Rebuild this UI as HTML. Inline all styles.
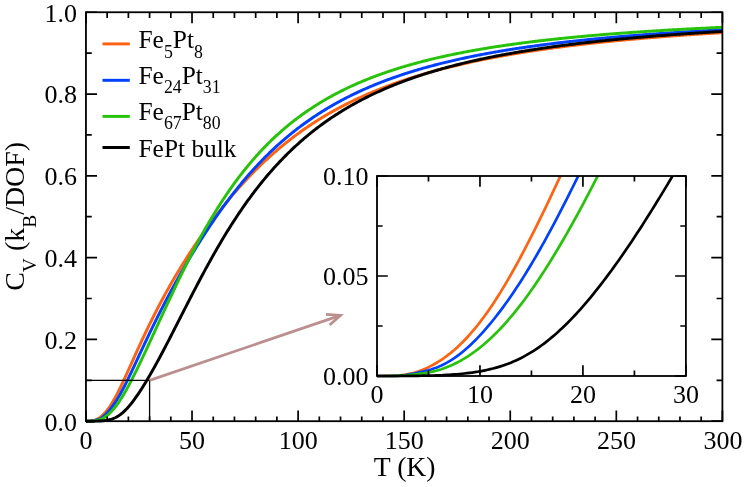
<!DOCTYPE html><html><head><meta charset="utf-8"><title>Cv</title>
<style>html,body{margin:0;padding:0;background:#fff}svg{display:block}svg{will-change:transform}text{font-family:"Liberation Serif",serif;fill:#000}</style></head><body>
<svg width="747" height="487" viewBox="0 0 747 487">
<rect width="747" height="487" fill="#fff"/>
<defs><clipPath id="cm"><rect x="85.95" y="12.25" width="636.4499999999999" height="411.95"/></clipPath><clipPath id="ci"><rect x="377.0" y="176.0" width="308.9" height="203.0"/></clipPath></defs>
<g clip-path="url(#cm)" fill="none" stroke-linejoin="round">
<path d="M85.95,421.20 L86.48,421.20 L87.01,421.20 L87.54,421.19 L88.07,421.19 L88.60,421.17 L89.13,421.16 L89.66,421.13 L90.19,421.09 L90.72,421.05 L91.25,420.99 L91.78,420.91 L92.31,420.82 L92.84,420.71 L93.38,420.59 L93.91,420.44 L94.44,420.27 L94.97,420.08 L95.50,419.87 L96.03,419.65 L96.56,419.40 L97.09,419.13 L97.62,418.85 L98.15,418.55 L98.68,418.22 L99.21,417.88 L99.74,417.52 L100.27,417.14 L100.80,416.74 L101.33,416.32 L101.86,415.88 L102.39,415.41 L102.92,414.92 L103.45,414.41 L103.98,413.88 L104.51,413.32 L105.04,412.74 L105.57,412.14 L106.10,411.52 L106.63,410.87 L107.16,410.20 L107.70,409.50 L108.23,408.79 L108.76,408.05 L109.29,407.29 L109.82,406.51 L110.35,405.71 L110.88,404.88 L111.41,404.04 L111.94,403.18 L112.47,402.30 L113.00,401.40 L113.53,400.49 L114.06,399.56 L114.59,398.61 L115.12,397.64 L115.65,396.67 L116.18,395.67 L116.71,394.67 L117.24,393.64 L117.77,392.61 L118.30,391.57 L118.83,390.51 L119.36,389.44 L119.89,388.37 L120.42,387.28 L120.95,386.19 L121.49,385.08 L122.02,383.97 L122.55,382.85 L123.08,381.72 L123.61,380.59 L124.14,379.45 L124.67,378.31 L125.20,377.16 L125.73,376.01 L126.26,374.85 L126.79,373.69 L127.32,372.52 L127.85,371.36 L128.38,370.19 L128.91,369.01 L129.44,367.84 L129.97,366.67 L130.50,365.49 L131.03,364.31 L131.56,363.13 L132.09,361.96 L132.62,360.78 L133.15,359.60 L133.68,358.43 L134.21,357.25 L134.74,356.08 L135.27,354.90 L135.81,353.73 L136.34,352.56 L136.87,351.39 L137.40,350.23 L137.93,349.06 L138.46,347.90 L138.99,346.74 L139.52,345.59 L140.05,344.43 L140.58,343.28 L141.11,342.14 L141.64,340.99 L142.17,339.85 L142.70,338.72 L143.23,337.58 L143.76,336.45 L144.29,335.33 L144.82,334.21 L145.35,333.09 L145.88,331.97 L146.41,330.86 L146.94,329.76 L147.47,328.65 L148.00,327.55 L148.53,326.46 L149.06,325.37 L149.59,324.28 L150.13,323.20 L150.66,322.12 L151.19,321.05 L151.72,319.98 L152.25,318.91 L152.78,317.85 L153.31,316.80 L153.84,315.74 L154.37,314.70 L154.90,313.65 L155.43,312.61 L155.96,311.57 L156.49,310.54 L157.02,309.52 L157.55,308.49 L158.08,307.47 L158.61,306.46 L159.14,305.45 L159.67,304.44 L160.20,303.43 L160.73,302.44 L161.26,301.44 L161.79,300.45 L162.32,299.46 L162.85,298.48 L163.38,297.50 L163.92,296.52 L164.45,295.55 L164.98,294.58 L165.51,293.62 L166.04,292.66 L166.57,291.70 L167.10,290.75 L167.63,289.80 L168.16,288.85 L168.69,287.91 L169.22,286.97 L169.75,286.03 L170.28,285.10 L170.81,284.17 L171.87,282.33 L172.93,280.49 L173.99,278.68 L175.05,276.87 L176.11,275.08 L177.17,273.29 L178.24,271.53 L179.30,269.77 L180.36,268.03 L181.42,266.30 L182.48,264.58 L183.54,262.87 L184.60,261.17 L185.66,259.49 L186.72,257.81 L187.78,256.15 L188.84,254.50 L189.90,252.86 L190.96,251.23 L192.02,249.61 L193.09,248.00 L194.15,246.40 L195.21,244.81 L196.27,243.24 L197.33,241.67 L198.39,240.11 L199.45,238.57 L200.51,237.03 L201.57,235.50 L202.63,233.99 L203.69,232.48 L204.75,230.98 L205.81,229.50 L206.88,228.02 L207.94,226.55 L209.00,225.09 L210.06,223.64 L211.12,222.20 L212.18,220.78 L213.24,219.36 L214.30,217.94 L215.36,216.54 L216.42,215.15 L217.48,213.77 L218.54,212.40 L219.60,211.03 L220.67,209.68 L221.73,208.34 L222.79,207.00 L223.85,205.67 L224.91,204.36 L225.97,203.05 L227.03,201.75 L228.09,200.46 L229.15,199.18 L230.21,197.91 L231.27,196.64 L232.33,195.39 L233.39,194.14 L234.45,192.91 L235.52,191.68 L236.58,190.46 L237.64,189.25 L238.70,188.05 L239.76,186.86 L240.82,185.68 L241.88,184.50 L242.94,183.34 L244.00,182.18 L245.06,181.03 L246.12,179.89 L247.18,178.76 L248.24,177.64 L249.31,176.52 L250.37,175.42 L251.43,174.32 L252.49,173.23 L253.55,172.15 L254.61,171.07 L255.67,170.01 L256.73,168.95 L257.79,167.90 L258.85,166.86 L259.91,165.83 L260.97,164.81 L262.03,163.79 L263.10,162.78 L264.16,161.78 L265.22,160.79 L266.28,159.80 L267.34,158.82 L268.40,157.85 L269.46,156.89 L270.52,155.93 L271.58,154.99 L272.64,154.05 L273.70,153.11 L274.76,152.19 L275.82,151.27 L276.88,150.36 L277.95,149.46 L279.01,148.56 L280.07,147.67 L281.13,146.79 L282.19,145.91 L283.25,145.04 L284.31,144.18 L285.37,143.33 L286.43,142.48 L287.49,141.64 L288.55,140.80 L289.61,139.98 L290.67,139.16 L291.74,138.34 L292.80,137.53 L293.86,136.73 L294.92,135.94 L295.98,135.15 L297.04,134.37 L298.10,133.59 L299.16,132.82 L300.22,132.06 L301.28,131.30 L302.34,130.55 L303.40,129.80 L304.46,129.06 L305.53,128.33 L306.59,127.60 L307.65,126.88 L308.71,126.16 L309.77,125.45 L310.83,124.75 L311.89,124.05 L312.95,123.35 L314.01,122.67 L315.07,121.98 L316.13,121.31 L317.19,120.64 L318.25,119.97 L319.31,119.31 L320.38,118.65 L321.44,118.00 L322.50,117.36 L323.56,116.72 L324.62,116.08 L325.68,115.45 L326.74,114.83 L327.80,114.21 L328.86,113.59 L329.92,112.98 L330.98,112.38 L332.04,111.78 L333.10,111.18 L334.17,110.59 L335.23,110.00 L336.29,109.42 L337.35,108.84 L338.41,108.27 L339.47,107.70 L340.53,107.14 L341.59,106.58 L342.65,106.03 L343.71,105.48 L344.77,104.93 L345.83,104.39 L346.89,103.85 L347.96,103.32 L349.02,102.79 L350.08,102.26 L351.14,101.74 L352.20,101.22 L353.26,100.71 L354.32,100.20 L355.38,99.70 L356.44,99.20 L357.50,98.70 L358.56,98.21 L359.62,97.72 L360.68,97.23 L361.74,96.75 L362.81,96.27 L363.87,95.79 L364.93,95.32 L365.99,94.86 L367.05,94.39 L368.11,93.93 L369.17,93.48 L370.23,93.02 L371.29,92.57 L372.35,92.13 L373.41,91.68 L374.47,91.24 L375.53,90.81 L376.60,90.37 L377.66,89.94 L378.72,89.52 L379.78,89.09 L380.84,88.67 L381.90,88.26 L382.96,87.84 L384.02,87.43 L385.08,87.02 L386.14,86.62 L387.20,86.22 L388.26,85.82 L389.32,85.42 L390.39,85.03 L391.45,84.64 L392.51,84.25 L393.57,83.87 L394.63,83.49 L395.69,83.11 L396.75,82.73 L397.81,82.36 L398.87,81.99 L399.93,81.62 L400.99,81.26 L402.05,80.89 L403.11,80.53 L404.17,80.18 L405.24,79.82 L406.30,79.47 L407.36,79.12 L408.42,78.77 L409.48,78.43 L410.54,78.09 L411.60,77.75 L412.66,77.41 L413.72,77.08 L414.78,76.75 L415.84,76.42 L416.90,76.09 L417.96,75.76 L419.03,75.44 L420.09,75.12 L421.15,74.80 L422.21,74.49 L423.27,74.17 L424.33,73.86 L425.39,73.55 L426.45,73.24 L427.51,72.94 L428.57,72.64 L429.63,72.34 L430.69,72.04 L431.75,71.74 L432.82,71.45 L433.88,71.15 L434.94,70.86 L436.00,70.57 L437.06,70.29 L438.12,70.00 L439.18,69.72 L440.24,69.44 L441.30,69.16 L442.36,68.89 L443.42,68.61 L444.48,68.34 L445.54,68.07 L446.60,67.80 L447.67,67.53 L448.73,67.26 L449.79,67.00 L450.85,66.74 L451.91,66.48 L452.97,66.22 L454.03,65.96 L455.09,65.71 L456.15,65.45 L457.21,65.20 L458.27,64.95 L459.33,64.70 L460.39,64.46 L461.46,64.21 L462.52,63.97 L463.58,63.73 L464.64,63.49 L465.70,63.25 L466.76,63.01 L467.82,62.78 L468.88,62.54 L469.94,62.31 L471.00,62.08 L472.06,61.85 L473.12,61.62 L474.18,61.40 L475.25,61.17 L476.31,60.95 L477.37,60.73 L478.43,60.51 L479.49,60.29 L480.55,60.07 L481.61,59.85 L482.67,59.64 L483.73,59.42 L484.79,59.21 L485.85,59.00 L486.91,58.79 L487.97,58.58 L489.03,58.38 L490.10,58.17 L491.16,57.97 L492.22,57.77 L493.28,57.56 L494.34,57.36 L495.40,57.16 L496.46,56.97 L497.52,56.77 L498.58,56.58 L499.64,56.38 L500.70,56.19 L501.76,56.00 L502.82,55.81 L503.89,55.62 L504.95,55.43 L506.01,55.24 L507.07,55.06 L508.13,54.87 L509.19,54.69 L510.25,54.51 L511.31,54.32 L512.37,54.14 L513.43,53.97 L514.49,53.79 L515.55,53.61 L516.61,53.43 L517.68,53.26 L518.74,53.09 L519.80,52.91 L520.86,52.74 L521.92,52.57 L522.98,52.40 L524.04,52.23 L525.10,52.07 L526.16,51.90 L527.22,51.73 L528.28,51.57 L529.34,51.41 L530.40,51.24 L531.47,51.08 L532.53,50.92 L533.59,50.76 L534.65,50.60 L535.71,50.45 L536.77,50.29 L537.83,50.13 L538.89,49.98 L539.95,49.82 L541.01,49.67 L542.07,49.52 L543.13,49.37 L544.19,49.22 L545.25,49.07 L546.32,48.92 L547.38,48.77 L548.44,48.62 L549.50,48.48 L550.56,48.33 L551.62,48.19 L552.68,48.04 L553.74,47.90 L554.80,47.76 L555.86,47.62 L556.92,47.48 L557.98,47.34 L559.04,47.20 L560.11,47.06 L561.17,46.92 L562.23,46.79 L563.29,46.65 L564.35,46.52 L565.41,46.38 L566.47,46.25 L567.53,46.12 L568.59,45.99 L569.65,45.86 L570.71,45.72 L571.77,45.60 L572.83,45.47 L573.89,45.34 L574.96,45.21 L576.02,45.08 L577.08,44.96 L578.14,44.83 L579.20,44.71 L580.26,44.58 L581.32,44.46 L582.38,44.34 L583.44,44.22 L584.50,44.09 L585.56,43.97 L586.62,43.85 L587.68,43.73 L588.75,43.62 L589.81,43.50 L590.87,43.38 L591.93,43.26 L592.99,43.15 L594.05,43.03 L595.11,42.92 L596.17,42.80 L597.23,42.69 L598.29,42.58 L599.35,42.46 L600.41,42.35 L601.47,42.24 L602.54,42.13 L603.60,42.02 L604.66,41.91 L605.72,41.80 L606.78,41.70 L607.84,41.59 L608.90,41.48 L609.96,41.37 L611.02,41.27 L612.08,41.16 L613.14,41.06 L614.20,40.95 L615.26,40.85 L616.32,40.75 L617.39,40.64 L618.45,40.54 L619.51,40.44 L620.57,40.34 L621.63,40.24 L622.69,40.14 L623.75,40.04 L624.81,39.94 L625.87,39.84 L626.93,39.74 L627.99,39.65 L629.05,39.55 L630.11,39.45 L631.18,39.36 L632.24,39.26 L633.30,39.17 L634.36,39.07 L635.42,38.98 L636.48,38.88 L637.54,38.79 L638.60,38.70 L639.66,38.61 L640.72,38.52 L641.78,38.42 L642.84,38.33 L643.90,38.24 L644.97,38.15 L646.03,38.06 L647.09,37.97 L648.15,37.89 L649.21,37.80 L650.27,37.71 L651.33,37.62 L652.39,37.54 L653.45,37.45 L654.51,37.36 L655.57,37.28 L656.63,37.19 L657.69,37.11 L658.75,37.03 L659.82,36.94 L660.88,36.86 L661.94,36.78 L663.00,36.69 L664.06,36.61 L665.12,36.53 L666.18,36.45 L667.24,36.37 L668.30,36.29 L669.36,36.21 L670.42,36.13 L671.48,36.05 L672.54,35.97 L673.61,35.89 L674.67,35.81 L675.73,35.73 L676.79,35.66 L677.85,35.58 L678.91,35.50 L679.97,35.43 L681.03,35.35 L682.09,35.27 L683.15,35.20 L684.21,35.12 L685.27,35.05 L686.33,34.98 L687.40,34.90 L688.46,34.83 L689.52,34.76 L690.58,34.68 L691.64,34.61 L692.70,34.54 L693.76,34.47 L694.82,34.40 L695.88,34.32 L696.94,34.25 L698.00,34.18 L699.06,34.11 L700.12,34.04 L701.18,33.97 L702.25,33.90 L703.31,33.84 L704.37,33.77 L705.43,33.70 L706.49,33.63 L707.55,33.56 L708.61,33.50 L709.67,33.43 L710.73,33.36 L711.79,33.30 L712.85,33.23 L713.91,33.17 L714.97,33.10 L716.04,33.03 L717.10,32.97 L718.16,32.91 L719.22,32.84 L720.28,32.78 L721.34,32.71 L722.40,32.65" stroke="#FF6210" stroke-width="2.95"/>
<path d="M85.95,421.20 L86.48,421.20 L87.01,421.20 L87.54,421.20 L88.07,421.20 L88.60,421.20 L89.13,421.19 L89.66,421.18 L90.19,421.15 L90.72,421.12 L91.25,421.06 L91.78,420.99 L92.31,420.91 L92.84,420.83 L93.38,420.73 L93.91,420.63 L94.44,420.52 L94.97,420.41 L95.50,420.29 L96.03,420.16 L96.56,420.01 L97.09,419.86 L97.62,419.68 L98.15,419.49 L98.68,419.28 L99.21,419.05 L99.74,418.80 L100.27,418.52 L100.80,418.22 L101.33,417.90 L101.86,417.56 L102.39,417.19 L102.92,416.79 L103.45,416.38 L103.98,415.94 L104.51,415.48 L105.04,415.01 L105.57,414.51 L106.10,413.99 L106.63,413.45 L107.16,412.90 L107.70,412.32 L108.23,411.73 L108.76,411.12 L109.29,410.49 L109.82,409.85 L110.35,409.19 L110.88,408.51 L111.41,407.82 L111.94,407.11 L112.47,406.39 L113.00,405.65 L113.53,404.89 L114.06,404.12 L114.59,403.33 L115.12,402.53 L115.65,401.71 L116.18,400.88 L116.71,400.03 L117.24,399.17 L117.77,398.29 L118.30,397.41 L118.83,396.50 L119.36,395.58 L119.89,394.65 L120.42,393.71 L120.95,392.76 L121.49,391.79 L122.02,390.81 L122.55,389.82 L123.08,388.82 L123.61,387.81 L124.14,386.79 L124.67,385.75 L125.20,384.71 L125.73,383.66 L126.26,382.61 L126.79,381.54 L127.32,380.47 L127.85,379.39 L128.38,378.30 L128.91,377.20 L129.44,376.11 L129.97,375.00 L130.50,373.89 L131.03,372.78 L131.56,371.66 L132.09,370.54 L132.62,369.41 L133.15,368.28 L133.68,367.15 L134.21,366.01 L134.74,364.88 L135.27,363.74 L135.81,362.60 L136.34,361.46 L136.87,360.32 L137.40,359.18 L137.93,358.03 L138.46,356.89 L138.99,355.75 L139.52,354.61 L140.05,353.47 L140.58,352.33 L141.11,351.19 L141.64,350.05 L142.17,348.91 L142.70,347.78 L143.23,346.64 L143.76,345.51 L144.29,344.38 L144.82,343.25 L145.35,342.12 L145.88,341.00 L146.41,339.88 L146.94,338.76 L147.47,337.64 L148.00,336.53 L148.53,335.42 L149.06,334.31 L149.59,333.20 L150.13,332.10 L150.66,331.00 L151.19,329.90 L151.72,328.81 L152.25,327.72 L152.78,326.63 L153.31,325.55 L153.84,324.47 L154.37,323.39 L154.90,322.31 L155.43,321.24 L155.96,320.17 L156.49,319.10 L157.02,318.04 L157.55,316.98 L158.08,315.93 L158.61,314.87 L159.14,313.82 L159.67,312.77 L160.20,311.73 L160.73,310.69 L161.26,309.65 L161.79,308.62 L162.32,307.59 L162.85,306.56 L163.38,305.53 L163.92,304.51 L164.45,303.49 L164.98,302.47 L165.51,301.46 L166.04,300.45 L166.57,299.44 L167.10,298.44 L167.63,297.43 L168.16,296.44 L168.69,295.44 L169.22,294.45 L169.75,293.46 L170.28,292.47 L170.81,291.48 L171.87,289.52 L172.93,287.57 L173.99,285.63 L175.05,283.70 L176.11,281.79 L177.17,279.88 L178.24,277.98 L179.30,276.09 L180.36,274.22 L181.42,272.35 L182.48,270.50 L183.54,268.65 L184.60,266.82 L185.66,264.99 L186.72,263.18 L187.78,261.37 L188.84,259.57 L189.90,257.79 L190.96,256.01 L192.02,254.25 L193.09,252.49 L194.15,250.75 L195.21,249.01 L196.27,247.29 L197.33,245.57 L198.39,243.86 L199.45,242.17 L200.51,240.48 L201.57,238.81 L202.63,237.14 L203.69,235.49 L204.75,233.84 L205.81,232.21 L206.88,230.58 L207.94,228.97 L209.00,227.36 L210.06,225.77 L211.12,224.18 L212.18,222.61 L213.24,221.05 L214.30,219.50 L215.36,217.95 L216.42,216.42 L217.48,214.90 L218.54,213.39 L219.60,211.89 L220.67,210.40 L221.73,208.92 L222.79,207.45 L223.85,205.99 L224.91,204.54 L225.97,203.10 L227.03,201.68 L228.09,200.26 L229.15,198.85 L230.21,197.46 L231.27,196.07 L232.33,194.70 L233.39,193.33 L234.45,191.98 L235.52,190.63 L236.58,189.30 L237.64,187.98 L238.70,186.66 L239.76,185.36 L240.82,184.07 L241.88,182.79 L242.94,181.51 L244.00,180.25 L245.06,179.00 L246.12,177.76 L247.18,176.53 L248.24,175.31 L249.31,174.09 L250.37,172.89 L251.43,171.70 L252.49,170.52 L253.55,169.35 L254.61,168.18 L255.67,167.03 L256.73,165.89 L257.79,164.75 L258.85,163.63 L259.91,162.52 L260.97,161.41 L262.03,160.31 L263.10,159.23 L264.16,158.15 L265.22,157.08 L266.28,156.02 L267.34,154.97 L268.40,153.93 L269.46,152.90 L270.52,151.88 L271.58,150.86 L272.64,149.86 L273.70,148.86 L274.76,147.87 L275.82,146.89 L276.88,145.92 L277.95,144.96 L279.01,144.01 L280.07,143.06 L281.13,142.12 L282.19,141.19 L283.25,140.27 L284.31,139.36 L285.37,138.45 L286.43,137.56 L287.49,136.67 L288.55,135.79 L289.61,134.91 L290.67,134.05 L291.74,133.19 L292.80,132.34 L293.86,131.49 L294.92,130.66 L295.98,129.83 L297.04,129.01 L298.10,128.19 L299.16,127.39 L300.22,126.59 L301.28,125.80 L302.34,125.01 L303.40,124.23 L304.46,123.46 L305.53,122.69 L306.59,121.94 L307.65,121.18 L308.71,120.44 L309.77,119.70 L310.83,118.97 L311.89,118.24 L312.95,117.53 L314.01,116.81 L315.07,116.11 L316.13,115.41 L317.19,114.71 L318.25,114.02 L319.31,113.34 L320.38,112.67 L321.44,112.00 L322.50,111.33 L323.56,110.67 L324.62,110.02 L325.68,109.37 L326.74,108.73 L327.80,108.10 L328.86,107.47 L329.92,106.84 L330.98,106.22 L332.04,105.61 L333.10,105.00 L334.17,104.40 L335.23,103.80 L336.29,103.21 L337.35,102.62 L338.41,102.04 L339.47,101.46 L340.53,100.88 L341.59,100.32 L342.65,99.75 L343.71,99.20 L344.77,98.64 L345.83,98.09 L346.89,97.55 L347.96,97.01 L349.02,96.48 L350.08,95.95 L351.14,95.42 L352.20,94.90 L353.26,94.38 L354.32,93.87 L355.38,93.36 L356.44,92.86 L357.50,92.36 L358.56,91.86 L359.62,91.37 L360.68,90.89 L361.74,90.40 L362.81,89.93 L363.87,89.45 L364.93,88.98 L365.99,88.51 L367.05,88.05 L368.11,87.59 L369.17,87.14 L370.23,86.68 L371.29,86.24 L372.35,85.79 L373.41,85.35 L374.47,84.91 L375.53,84.48 L376.60,84.05 L377.66,83.63 L378.72,83.20 L379.78,82.78 L380.84,82.37 L381.90,81.96 L382.96,81.55 L384.02,81.14 L385.08,80.74 L386.14,80.34 L387.20,79.94 L388.26,79.55 L389.32,79.16 L390.39,78.77 L391.45,78.39 L392.51,78.01 L393.57,77.63 L394.63,77.26 L395.69,76.89 L396.75,76.52 L397.81,76.15 L398.87,75.79 L399.93,75.43 L400.99,75.08 L402.05,74.72 L403.11,74.37 L404.17,74.02 L405.24,73.68 L406.30,73.33 L407.36,72.99 L408.42,72.66 L409.48,72.32 L410.54,71.99 L411.60,71.66 L412.66,71.33 L413.72,71.01 L414.78,70.68 L415.84,70.36 L416.90,70.05 L417.96,69.73 L419.03,69.42 L420.09,69.11 L421.15,68.80 L422.21,68.50 L423.27,68.19 L424.33,67.89 L425.39,67.60 L426.45,67.30 L427.51,67.01 L428.57,66.71 L429.63,66.42 L430.69,66.14 L431.75,65.85 L432.82,65.57 L433.88,65.29 L434.94,65.01 L436.00,64.73 L437.06,64.46 L438.12,64.18 L439.18,63.91 L440.24,63.65 L441.30,63.38 L442.36,63.11 L443.42,62.85 L444.48,62.59 L445.54,62.33 L446.60,62.07 L447.67,61.82 L448.73,61.57 L449.79,61.31 L450.85,61.07 L451.91,60.82 L452.97,60.57 L454.03,60.33 L455.09,60.08 L456.15,59.84 L457.21,59.61 L458.27,59.37 L459.33,59.13 L460.39,58.90 L461.46,58.67 L462.52,58.44 L463.58,58.21 L464.64,57.98 L465.70,57.75 L466.76,57.53 L467.82,57.31 L468.88,57.09 L469.94,56.87 L471.00,56.65 L472.06,56.43 L473.12,56.22 L474.18,56.00 L475.25,55.79 L476.31,55.58 L477.37,55.37 L478.43,55.16 L479.49,54.96 L480.55,54.75 L481.61,54.55 L482.67,54.35 L483.73,54.15 L484.79,53.95 L485.85,53.75 L486.91,53.56 L487.97,53.36 L489.03,53.17 L490.10,52.97 L491.16,52.78 L492.22,52.59 L493.28,52.40 L494.34,52.22 L495.40,52.03 L496.46,51.85 L497.52,51.66 L498.58,51.48 L499.64,51.30 L500.70,51.12 L501.76,50.94 L502.82,50.76 L503.89,50.59 L504.95,50.41 L506.01,50.24 L507.07,50.06 L508.13,49.89 L509.19,49.72 L510.25,49.55 L511.31,49.38 L512.37,49.22 L513.43,49.05 L514.49,48.89 L515.55,48.72 L516.61,48.56 L517.68,48.40 L518.74,48.24 L519.80,48.08 L520.86,47.92 L521.92,47.76 L522.98,47.60 L524.04,47.45 L525.10,47.29 L526.16,47.14 L527.22,46.99 L528.28,46.83 L529.34,46.68 L530.40,46.53 L531.47,46.38 L532.53,46.24 L533.59,46.09 L534.65,45.94 L535.71,45.80 L536.77,45.65 L537.83,45.51 L538.89,45.37 L539.95,45.22 L541.01,45.08 L542.07,44.94 L543.13,44.80 L544.19,44.67 L545.25,44.53 L546.32,44.39 L547.38,44.26 L548.44,44.12 L549.50,43.99 L550.56,43.85 L551.62,43.72 L552.68,43.59 L553.74,43.46 L554.80,43.33 L555.86,43.20 L556.92,43.07 L557.98,42.94 L559.04,42.82 L560.11,42.69 L561.17,42.57 L562.23,42.44 L563.29,42.32 L564.35,42.19 L565.41,42.07 L566.47,41.95 L567.53,41.83 L568.59,41.71 L569.65,41.59 L570.71,41.47 L571.77,41.35 L572.83,41.23 L573.89,41.12 L574.96,41.00 L576.02,40.89 L577.08,40.77 L578.14,40.66 L579.20,40.54 L580.26,40.43 L581.32,40.32 L582.38,40.21 L583.44,40.10 L584.50,39.99 L585.56,39.88 L586.62,39.77 L587.68,39.66 L588.75,39.55 L589.81,39.45 L590.87,39.34 L591.93,39.23 L592.99,39.13 L594.05,39.02 L595.11,38.92 L596.17,38.82 L597.23,38.71 L598.29,38.61 L599.35,38.51 L600.41,38.41 L601.47,38.31 L602.54,38.21 L603.60,38.11 L604.66,38.01 L605.72,37.91 L606.78,37.81 L607.84,37.72 L608.90,37.62 L609.96,37.52 L611.02,37.43 L612.08,37.33 L613.14,37.24 L614.20,37.15 L615.26,37.05 L616.32,36.96 L617.39,36.87 L618.45,36.77 L619.51,36.68 L620.57,36.59 L621.63,36.50 L622.69,36.41 L623.75,36.32 L624.81,36.23 L625.87,36.14 L626.93,36.06 L627.99,35.97 L629.05,35.88 L630.11,35.80 L631.18,35.71 L632.24,35.62 L633.30,35.54 L634.36,35.45 L635.42,35.37 L636.48,35.29 L637.54,35.20 L638.60,35.12 L639.66,35.04 L640.72,34.95 L641.78,34.87 L642.84,34.79 L643.90,34.71 L644.97,34.63 L646.03,34.55 L647.09,34.47 L648.15,34.39 L649.21,34.31 L650.27,34.24 L651.33,34.16 L652.39,34.08 L653.45,34.00 L654.51,33.93 L655.57,33.85 L656.63,33.77 L657.69,33.70 L658.75,33.62 L659.82,33.55 L660.88,33.47 L661.94,33.40 L663.00,33.33 L664.06,33.25 L665.12,33.18 L666.18,33.11 L667.24,33.04 L668.30,32.96 L669.36,32.89 L670.42,32.82 L671.48,32.75 L672.54,32.68 L673.61,32.61 L674.67,32.54 L675.73,32.47 L676.79,32.40 L677.85,32.33 L678.91,32.27 L679.97,32.20 L681.03,32.13 L682.09,32.06 L683.15,32.00 L684.21,31.93 L685.27,31.86 L686.33,31.80 L687.40,31.73 L688.46,31.67 L689.52,31.60 L690.58,31.54 L691.64,31.47 L692.70,31.41 L693.76,31.35 L694.82,31.28 L695.88,31.22 L696.94,31.16 L698.00,31.10 L699.06,31.03 L700.12,30.97 L701.18,30.91 L702.25,30.85 L703.31,30.79 L704.37,30.73 L705.43,30.67 L706.49,30.61 L707.55,30.55 L708.61,30.49 L709.67,30.43 L710.73,30.37 L711.79,30.31 L712.85,30.25 L713.91,30.19 L714.97,30.14 L716.04,30.08 L717.10,30.02 L718.16,29.97 L719.22,29.91 L720.28,29.85 L721.34,29.80 L722.40,29.74" stroke="#0040FF" stroke-width="2.95"/>
<path d="M85.95,421.20 L86.48,421.20 L87.01,421.20 L87.54,421.20 L88.07,421.20 L88.60,421.20 L89.13,421.19 L89.66,421.18 L90.19,421.17 L90.72,421.14 L91.25,421.11 L91.78,421.07 L92.31,421.02 L92.84,420.97 L93.38,420.92 L93.91,420.86 L94.44,420.79 L94.97,420.72 L95.50,420.65 L96.03,420.56 L96.56,420.47 L97.09,420.36 L97.62,420.25 L98.15,420.11 L98.68,419.97 L99.21,419.81 L99.74,419.63 L100.27,419.43 L100.80,419.22 L101.33,419.00 L101.86,418.75 L102.39,418.49 L102.92,418.21 L103.45,417.92 L103.98,417.61 L104.51,417.28 L105.04,416.93 L105.57,416.57 L106.10,416.19 L106.63,415.80 L107.16,415.39 L107.70,414.96 L108.23,414.51 L108.76,414.05 L109.29,413.57 L109.82,413.07 L110.35,412.56 L110.88,412.03 L111.41,411.48 L111.94,410.92 L112.47,410.34 L113.00,409.74 L113.53,409.13 L114.06,408.49 L114.59,407.85 L115.12,407.18 L115.65,406.50 L116.18,405.81 L116.71,405.10 L117.24,404.37 L117.77,403.63 L118.30,402.87 L118.83,402.10 L119.36,401.32 L119.89,400.52 L120.42,399.70 L120.95,398.88 L121.49,398.04 L122.02,397.18 L122.55,396.32 L123.08,395.44 L123.61,394.55 L124.14,393.65 L124.67,392.74 L125.20,391.82 L125.73,390.89 L126.26,389.95 L126.79,389.00 L127.32,388.04 L127.85,387.07 L128.38,386.09 L128.91,385.10 L129.44,384.10 L129.97,383.10 L130.50,382.09 L131.03,381.07 L131.56,380.05 L132.09,379.01 L132.62,377.97 L133.15,376.93 L133.68,375.88 L134.21,374.82 L134.74,373.76 L135.27,372.69 L135.81,371.62 L136.34,370.54 L136.87,369.46 L137.40,368.37 L137.93,367.28 L138.46,366.18 L138.99,365.09 L139.52,363.98 L140.05,362.88 L140.58,361.77 L141.11,360.65 L141.64,359.53 L142.17,358.42 L142.70,357.29 L143.23,356.17 L143.76,355.04 L144.29,353.91 L144.82,352.78 L145.35,351.64 L145.88,350.50 L146.41,349.37 L146.94,348.23 L147.47,347.08 L148.00,345.94 L148.53,344.79 L149.06,343.65 L149.59,342.50 L150.13,341.35 L150.66,340.20 L151.19,339.05 L151.72,337.89 L152.25,336.74 L152.78,335.59 L153.31,334.43 L153.84,333.28 L154.37,332.12 L154.90,330.97 L155.43,329.81 L155.96,328.66 L156.49,327.50 L157.02,326.34 L157.55,325.19 L158.08,324.03 L158.61,322.87 L159.14,321.72 L159.67,320.56 L160.20,319.41 L160.73,318.26 L161.26,317.10 L161.79,315.95 L162.32,314.80 L162.85,313.65 L163.38,312.50 L163.92,311.35 L164.45,310.20 L164.98,309.05 L165.51,307.90 L166.04,306.76 L166.57,305.61 L167.10,304.47 L167.63,303.33 L168.16,302.19 L168.69,301.05 L169.22,299.92 L169.75,298.78 L170.28,297.65 L170.81,296.52 L171.87,294.26 L172.93,292.01 L173.99,289.77 L175.05,287.54 L176.11,285.31 L177.17,283.10 L178.24,280.89 L179.30,278.70 L180.36,276.51 L181.42,274.34 L182.48,272.17 L183.54,270.02 L184.60,267.88 L185.66,265.75 L186.72,263.64 L187.78,261.53 L188.84,259.44 L189.90,257.36 L190.96,255.30 L192.02,253.25 L193.09,251.21 L194.15,249.18 L195.21,247.17 L196.27,245.18 L197.33,243.19 L198.39,241.22 L199.45,239.27 L200.51,237.33 L201.57,235.41 L202.63,233.50 L203.69,231.60 L204.75,229.72 L205.81,227.85 L206.88,226.00 L207.94,224.17 L209.00,222.35 L210.06,220.54 L211.12,218.75 L212.18,216.98 L213.24,215.22 L214.30,213.47 L215.36,211.74 L216.42,210.03 L217.48,208.33 L218.54,206.65 L219.60,204.98 L220.67,203.32 L221.73,201.68 L222.79,200.06 L223.85,198.45 L224.91,196.86 L225.97,195.28 L227.03,193.71 L228.09,192.16 L229.15,190.63 L230.21,189.11 L231.27,187.60 L232.33,186.11 L233.39,184.63 L234.45,183.17 L235.52,181.72 L236.58,180.29 L237.64,178.87 L238.70,177.46 L239.76,176.07 L240.82,174.69 L241.88,173.32 L242.94,171.97 L244.00,170.63 L245.06,169.31 L246.12,168.00 L247.18,166.70 L248.24,165.41 L249.31,164.14 L250.37,162.88 L251.43,161.63 L252.49,160.39 L253.55,159.17 L254.61,157.96 L255.67,156.76 L256.73,155.58 L257.79,154.40 L258.85,153.24 L259.91,152.09 L260.97,150.95 L262.03,149.82 L263.10,148.71 L264.16,147.61 L265.22,146.51 L266.28,145.43 L267.34,144.36 L268.40,143.30 L269.46,142.25 L270.52,141.21 L271.58,140.18 L272.64,139.17 L273.70,138.16 L274.76,137.16 L275.82,136.18 L276.88,135.20 L277.95,134.23 L279.01,133.28 L280.07,132.33 L281.13,131.39 L282.19,130.46 L283.25,129.54 L284.31,128.63 L285.37,127.73 L286.43,126.84 L287.49,125.96 L288.55,125.09 L289.61,124.22 L290.67,123.37 L291.74,122.52 L292.80,121.68 L293.86,120.85 L294.92,120.03 L295.98,119.22 L297.04,118.41 L298.10,117.62 L299.16,116.83 L300.22,116.05 L301.28,115.27 L302.34,114.51 L303.40,113.75 L304.46,113.00 L305.53,112.25 L306.59,111.52 L307.65,110.79 L308.71,110.07 L309.77,109.35 L310.83,108.65 L311.89,107.95 L312.95,107.25 L314.01,106.57 L315.07,105.89 L316.13,105.21 L317.19,104.55 L318.25,103.89 L319.31,103.23 L320.38,102.59 L321.44,101.95 L322.50,101.31 L323.56,100.68 L324.62,100.06 L325.68,99.44 L326.74,98.83 L327.80,98.23 L328.86,97.63 L329.92,97.03 L330.98,96.45 L332.04,95.86 L333.10,95.29 L334.17,94.72 L335.23,94.15 L336.29,93.59 L337.35,93.04 L338.41,92.49 L339.47,91.94 L340.53,91.40 L341.59,90.87 L342.65,90.34 L343.71,89.81 L344.77,89.29 L345.83,88.78 L346.89,88.27 L347.96,87.76 L349.02,87.26 L350.08,86.77 L351.14,86.28 L352.20,85.79 L353.26,85.31 L354.32,84.83 L355.38,84.36 L356.44,83.89 L357.50,83.42 L358.56,82.96 L359.62,82.50 L360.68,82.05 L361.74,81.60 L362.81,81.16 L363.87,80.72 L364.93,80.28 L365.99,79.85 L367.05,79.42 L368.11,79.00 L369.17,78.57 L370.23,78.16 L371.29,77.74 L372.35,77.33 L373.41,76.93 L374.47,76.52 L375.53,76.13 L376.60,75.73 L377.66,75.34 L378.72,74.95 L379.78,74.56 L380.84,74.18 L381.90,73.80 L382.96,73.43 L384.02,73.05 L385.08,72.69 L386.14,72.32 L387.20,71.96 L388.26,71.60 L389.32,71.24 L390.39,70.89 L391.45,70.54 L392.51,70.19 L393.57,69.84 L394.63,69.50 L395.69,69.16 L396.75,68.83 L397.81,68.49 L398.87,68.16 L399.93,67.84 L400.99,67.51 L402.05,67.19 L403.11,66.87 L404.17,66.55 L405.24,66.24 L406.30,65.93 L407.36,65.62 L408.42,65.31 L409.48,65.01 L410.54,64.71 L411.60,64.41 L412.66,64.11 L413.72,63.82 L414.78,63.52 L415.84,63.23 L416.90,62.95 L417.96,62.66 L419.03,62.38 L420.09,62.10 L421.15,61.82 L422.21,61.55 L423.27,61.27 L424.33,61.00 L425.39,60.73 L426.45,60.47 L427.51,60.20 L428.57,59.94 L429.63,59.68 L430.69,59.42 L431.75,59.16 L432.82,58.91 L433.88,58.65 L434.94,58.40 L436.00,58.15 L437.06,57.91 L438.12,57.66 L439.18,57.42 L440.24,57.18 L441.30,56.94 L442.36,56.70 L443.42,56.46 L444.48,56.23 L445.54,56.00 L446.60,55.77 L447.67,55.54 L448.73,55.31 L449.79,55.09 L450.85,54.86 L451.91,54.64 L452.97,54.42 L454.03,54.20 L455.09,53.99 L456.15,53.77 L457.21,53.56 L458.27,53.35 L459.33,53.14 L460.39,52.93 L461.46,52.72 L462.52,52.51 L463.58,52.31 L464.64,52.11 L465.70,51.90 L466.76,51.70 L467.82,51.51 L468.88,51.31 L469.94,51.11 L471.00,50.92 L472.06,50.73 L473.12,50.54 L474.18,50.35 L475.25,50.16 L476.31,49.97 L477.37,49.78 L478.43,49.60 L479.49,49.42 L480.55,49.23 L481.61,49.05 L482.67,48.87 L483.73,48.70 L484.79,48.52 L485.85,48.34 L486.91,48.17 L487.97,48.00 L489.03,47.82 L490.10,47.65 L491.16,47.48 L492.22,47.32 L493.28,47.15 L494.34,46.98 L495.40,46.82 L496.46,46.65 L497.52,46.49 L498.58,46.33 L499.64,46.17 L500.70,46.01 L501.76,45.85 L502.82,45.70 L503.89,45.54 L504.95,45.38 L506.01,45.23 L507.07,45.08 L508.13,44.93 L509.19,44.77 L510.25,44.62 L511.31,44.48 L512.37,44.33 L513.43,44.18 L514.49,44.04 L515.55,43.89 L516.61,43.75 L517.68,43.60 L518.74,43.46 L519.80,43.32 L520.86,43.18 L521.92,43.04 L522.98,42.90 L524.04,42.77 L525.10,42.63 L526.16,42.49 L527.22,42.36 L528.28,42.22 L529.34,42.09 L530.40,41.96 L531.47,41.83 L532.53,41.70 L533.59,41.57 L534.65,41.44 L535.71,41.31 L536.77,41.18 L537.83,41.06 L538.89,40.93 L539.95,40.81 L541.01,40.68 L542.07,40.56 L543.13,40.44 L544.19,40.32 L545.25,40.20 L546.32,40.08 L547.38,39.96 L548.44,39.84 L549.50,39.72 L550.56,39.60 L551.62,39.49 L552.68,39.37 L553.74,39.26 L554.80,39.14 L555.86,39.03 L556.92,38.92 L557.98,38.80 L559.04,38.69 L560.11,38.58 L561.17,38.47 L562.23,38.36 L563.29,38.25 L564.35,38.15 L565.41,38.04 L566.47,37.93 L567.53,37.83 L568.59,37.72 L569.65,37.62 L570.71,37.51 L571.77,37.41 L572.83,37.31 L573.89,37.20 L574.96,37.10 L576.02,37.00 L577.08,36.90 L578.14,36.80 L579.20,36.70 L580.26,36.60 L581.32,36.50 L582.38,36.41 L583.44,36.31 L584.50,36.21 L585.56,36.12 L586.62,36.02 L587.68,35.93 L588.75,35.83 L589.81,35.74 L590.87,35.65 L591.93,35.56 L592.99,35.46 L594.05,35.37 L595.11,35.28 L596.17,35.19 L597.23,35.10 L598.29,35.01 L599.35,34.92 L600.41,34.83 L601.47,34.75 L602.54,34.66 L603.60,34.57 L604.66,34.49 L605.72,34.40 L606.78,34.31 L607.84,34.23 L608.90,34.15 L609.96,34.06 L611.02,33.98 L612.08,33.90 L613.14,33.81 L614.20,33.73 L615.26,33.65 L616.32,33.57 L617.39,33.49 L618.45,33.41 L619.51,33.33 L620.57,33.25 L621.63,33.17 L622.69,33.09 L623.75,33.01 L624.81,32.94 L625.87,32.86 L626.93,32.78 L627.99,32.71 L629.05,32.63 L630.11,32.55 L631.18,32.48 L632.24,32.40 L633.30,32.33 L634.36,32.26 L635.42,32.18 L636.48,32.11 L637.54,32.04 L638.60,31.97 L639.66,31.89 L640.72,31.82 L641.78,31.75 L642.84,31.68 L643.90,31.61 L644.97,31.54 L646.03,31.47 L647.09,31.40 L648.15,31.33 L649.21,31.26 L650.27,31.20 L651.33,31.13 L652.39,31.06 L653.45,30.99 L654.51,30.93 L655.57,30.86 L656.63,30.79 L657.69,30.73 L658.75,30.66 L659.82,30.60 L660.88,30.53 L661.94,30.47 L663.00,30.41 L664.06,30.34 L665.12,30.28 L666.18,30.22 L667.24,30.15 L668.30,30.09 L669.36,30.03 L670.42,29.97 L671.48,29.91 L672.54,29.84 L673.61,29.78 L674.67,29.72 L675.73,29.66 L676.79,29.60 L677.85,29.54 L678.91,29.48 L679.97,29.43 L681.03,29.37 L682.09,29.31 L683.15,29.25 L684.21,29.19 L685.27,29.14 L686.33,29.08 L687.40,29.02 L688.46,28.96 L689.52,28.91 L690.58,28.85 L691.64,28.80 L692.70,28.74 L693.76,28.69 L694.82,28.63 L695.88,28.58 L696.94,28.52 L698.00,28.47 L699.06,28.41 L700.12,28.36 L701.18,28.31 L702.25,28.25 L703.31,28.20 L704.37,28.15 L705.43,28.10 L706.49,28.04 L707.55,27.99 L708.61,27.94 L709.67,27.89 L710.73,27.84 L711.79,27.79 L712.85,27.74 L713.91,27.69 L714.97,27.64 L716.04,27.59 L717.10,27.54 L718.16,27.49 L719.22,27.44 L720.28,27.39 L721.34,27.34 L722.40,27.29" stroke="#26C30A" stroke-width="2.95"/>
<path d="M85.95,421.20 L86.48,421.20 L87.01,421.20 L87.54,421.20 L88.07,421.20 L88.60,421.20 L89.13,421.20 L89.66,421.20 L90.19,421.20 L90.72,421.19 L91.25,421.19 L91.78,421.19 L92.31,421.18 L92.84,421.18 L93.38,421.17 L93.91,421.16 L94.44,421.16 L94.97,421.15 L95.50,421.14 L96.03,421.13 L96.56,421.12 L97.09,421.11 L97.62,421.10 L98.15,421.08 L98.68,421.06 L99.21,421.04 L99.74,421.02 L100.27,420.99 L100.80,420.96 L101.33,420.92 L101.86,420.88 L102.39,420.84 L102.92,420.80 L103.45,420.74 L103.98,420.69 L104.51,420.63 L105.04,420.56 L105.57,420.49 L106.10,420.41 L106.63,420.33 L107.16,420.24 L107.70,420.14 L108.23,420.04 L108.76,419.93 L109.29,419.81 L109.82,419.68 L110.35,419.54 L110.88,419.39 L111.41,419.23 L111.94,419.05 L112.47,418.87 L113.00,418.67 L113.53,418.47 L114.06,418.25 L114.59,418.01 L115.12,417.77 L115.65,417.51 L116.18,417.23 L116.71,416.94 L117.24,416.64 L117.77,416.32 L118.30,415.99 L118.83,415.65 L119.36,415.28 L119.89,414.91 L120.42,414.52 L120.95,414.11 L121.49,413.69 L122.02,413.26 L122.55,412.81 L123.08,412.35 L123.61,411.87 L124.14,411.38 L124.67,410.87 L125.20,410.35 L125.73,409.82 L126.26,409.27 L126.79,408.72 L127.32,408.14 L127.85,407.56 L128.38,406.96 L128.91,406.36 L129.44,405.74 L129.97,405.10 L130.50,404.46 L131.03,403.81 L131.56,403.14 L132.09,402.47 L132.62,401.78 L133.15,401.09 L133.68,400.38 L134.21,399.66 L134.74,398.94 L135.27,398.21 L135.81,397.46 L136.34,396.71 L136.87,395.95 L137.40,395.18 L137.93,394.41 L138.46,393.62 L138.99,392.83 L139.52,392.03 L140.05,391.22 L140.58,390.41 L141.11,389.59 L141.64,388.76 L142.17,387.92 L142.70,387.08 L143.23,386.24 L143.76,385.38 L144.29,384.52 L144.82,383.66 L145.35,382.78 L145.88,381.91 L146.41,381.02 L146.94,380.13 L147.47,379.24 L148.00,378.34 L148.53,377.44 L149.06,376.53 L149.59,375.62 L150.13,374.70 L150.66,373.78 L151.19,372.85 L151.72,371.92 L152.25,370.98 L152.78,370.04 L153.31,369.10 L153.84,368.15 L154.37,367.20 L154.90,366.24 L155.43,365.28 L155.96,364.32 L156.49,363.35 L157.02,362.38 L157.55,361.41 L158.08,360.43 L158.61,359.45 L159.14,358.47 L159.67,357.48 L160.20,356.49 L160.73,355.50 L161.26,354.50 L161.79,353.51 L162.32,352.51 L162.85,351.50 L163.38,350.50 L163.92,349.49 L164.45,348.48 L164.98,347.47 L165.51,346.46 L166.04,345.44 L166.57,344.42 L167.10,343.40 L167.63,342.38 L168.16,341.36 L168.69,340.33 L169.22,339.31 L169.75,338.28 L170.28,337.25 L170.81,336.22 L171.87,334.15 L172.93,332.08 L173.99,330.01 L175.05,327.94 L176.11,325.86 L177.17,323.78 L178.24,321.69 L179.30,319.61 L180.36,317.53 L181.42,315.44 L182.48,313.36 L183.54,311.28 L184.60,309.20 L185.66,307.12 L186.72,305.05 L187.78,302.98 L188.84,300.91 L189.90,298.84 L190.96,296.79 L192.02,294.73 L193.09,292.68 L194.15,290.64 L195.21,288.60 L196.27,286.57 L197.33,284.55 L198.39,282.53 L199.45,280.53 L200.51,278.53 L201.57,276.54 L202.63,274.55 L203.69,272.58 L204.75,270.61 L205.81,268.66 L206.88,266.71 L207.94,264.78 L209.00,262.85 L210.06,260.94 L211.12,259.03 L212.18,257.14 L213.24,255.25 L214.30,253.38 L215.36,251.52 L216.42,249.67 L217.48,247.84 L218.54,246.01 L219.60,244.20 L220.67,242.40 L221.73,240.61 L222.79,238.83 L223.85,237.07 L224.91,235.31 L225.97,233.57 L227.03,231.85 L228.09,230.13 L229.15,228.43 L230.21,226.74 L231.27,225.06 L232.33,223.40 L233.39,221.75 L234.45,220.11 L235.52,218.48 L236.58,216.87 L237.64,215.27 L238.70,213.68 L239.76,212.11 L240.82,210.55 L241.88,209.00 L242.94,207.46 L244.00,205.94 L245.06,204.43 L246.12,202.93 L247.18,201.45 L248.24,199.98 L249.31,198.52 L250.37,197.07 L251.43,195.63 L252.49,194.21 L253.55,192.80 L254.61,191.40 L255.67,190.02 L256.73,188.65 L257.79,187.28 L258.85,185.94 L259.91,184.60 L260.97,183.27 L262.03,181.96 L263.10,180.66 L264.16,179.37 L265.22,178.09 L266.28,176.82 L267.34,175.57 L268.40,174.33 L269.46,173.09 L270.52,171.87 L271.58,170.66 L272.64,169.46 L273.70,168.28 L274.76,167.10 L275.82,165.93 L276.88,164.78 L277.95,163.63 L279.01,162.50 L280.07,161.37 L281.13,160.26 L282.19,159.16 L283.25,158.07 L284.31,156.98 L285.37,155.91 L286.43,154.85 L287.49,153.79 L288.55,152.75 L289.61,151.72 L290.67,150.69 L291.74,149.68 L292.80,148.68 L293.86,147.68 L294.92,146.69 L295.98,145.72 L297.04,144.75 L298.10,143.79 L299.16,142.84 L300.22,141.90 L301.28,140.97 L302.34,140.04 L303.40,139.13 L304.46,138.22 L305.53,137.32 L306.59,136.43 L307.65,135.55 L308.71,134.68 L309.77,133.81 L310.83,132.95 L311.89,132.10 L312.95,131.26 L314.01,130.43 L315.07,129.60 L316.13,128.78 L317.19,127.97 L318.25,127.17 L319.31,126.37 L320.38,125.58 L321.44,124.80 L322.50,124.03 L323.56,123.26 L324.62,122.50 L325.68,121.75 L326.74,121.00 L327.80,120.26 L328.86,119.53 L329.92,118.80 L330.98,118.08 L332.04,117.37 L333.10,116.66 L334.17,115.96 L335.23,115.27 L336.29,114.58 L337.35,113.90 L338.41,113.22 L339.47,112.55 L340.53,111.89 L341.59,111.23 L342.65,110.58 L343.71,109.94 L344.77,109.30 L345.83,108.66 L346.89,108.03 L347.96,107.41 L349.02,106.79 L350.08,106.18 L351.14,105.58 L352.20,104.98 L353.26,104.38 L354.32,103.79 L355.38,103.20 L356.44,102.62 L357.50,102.05 L358.56,101.48 L359.62,100.91 L360.68,100.35 L361.74,99.80 L362.81,99.25 L363.87,98.70 L364.93,98.16 L365.99,97.62 L367.05,97.09 L368.11,96.57 L369.17,96.04 L370.23,95.52 L371.29,95.01 L372.35,94.50 L373.41,94.00 L374.47,93.50 L375.53,93.00 L376.60,92.51 L377.66,92.02 L378.72,91.54 L379.78,91.06 L380.84,90.58 L381.90,90.11 L382.96,89.64 L384.02,89.18 L385.08,88.72 L386.14,88.26 L387.20,87.81 L388.26,87.36 L389.32,86.92 L390.39,86.48 L391.45,86.04 L392.51,85.60 L393.57,85.17 L394.63,84.75 L395.69,84.32 L396.75,83.90 L397.81,83.49 L398.87,83.08 L399.93,82.67 L400.99,82.26 L402.05,81.86 L403.11,81.46 L404.17,81.06 L405.24,80.67 L406.30,80.28 L407.36,79.89 L408.42,79.51 L409.48,79.13 L410.54,78.75 L411.60,78.37 L412.66,78.00 L413.72,77.63 L414.78,77.27 L415.84,76.91 L416.90,76.55 L417.96,76.19 L419.03,75.83 L420.09,75.48 L421.15,75.13 L422.21,74.79 L423.27,74.45 L424.33,74.10 L425.39,73.77 L426.45,73.43 L427.51,73.10 L428.57,72.77 L429.63,72.44 L430.69,72.12 L431.75,71.79 L432.82,71.47 L433.88,71.16 L434.94,70.84 L436.00,70.53 L437.06,70.22 L438.12,69.91 L439.18,69.60 L440.24,69.30 L441.30,69.00 L442.36,68.70 L443.42,68.40 L444.48,68.11 L445.54,67.82 L446.60,67.53 L447.67,67.24 L448.73,66.95 L449.79,66.67 L450.85,66.39 L451.91,66.11 L452.97,65.83 L454.03,65.56 L455.09,65.28 L456.15,65.01 L457.21,64.74 L458.27,64.48 L459.33,64.21 L460.39,63.95 L461.46,63.68 L462.52,63.43 L463.58,63.17 L464.64,62.91 L465.70,62.66 L466.76,62.41 L467.82,62.16 L468.88,61.91 L469.94,61.66 L471.00,61.42 L472.06,61.17 L473.12,60.93 L474.18,60.69 L475.25,60.45 L476.31,60.22 L477.37,59.98 L478.43,59.75 L479.49,59.52 L480.55,59.29 L481.61,59.06 L482.67,58.83 L483.73,58.61 L484.79,58.38 L485.85,58.16 L486.91,57.94 L487.97,57.72 L489.03,57.51 L490.10,57.29 L491.16,57.08 L492.22,56.86 L493.28,56.65 L494.34,56.44 L495.40,56.23 L496.46,56.03 L497.52,55.82 L498.58,55.62 L499.64,55.41 L500.70,55.21 L501.76,55.01 L502.82,54.81 L503.89,54.62 L504.95,54.42 L506.01,54.22 L507.07,54.03 L508.13,53.84 L509.19,53.65 L510.25,53.46 L511.31,53.27 L512.37,53.08 L513.43,52.90 L514.49,52.71 L515.55,52.53 L516.61,52.35 L517.68,52.17 L518.74,51.99 L519.80,51.81 L520.86,51.63 L521.92,51.45 L522.98,51.28 L524.04,51.10 L525.10,50.93 L526.16,50.76 L527.22,50.59 L528.28,50.42 L529.34,50.25 L530.40,50.08 L531.47,49.92 L532.53,49.75 L533.59,49.59 L534.65,49.42 L535.71,49.26 L536.77,49.10 L537.83,48.94 L538.89,48.78 L539.95,48.62 L541.01,48.47 L542.07,48.31 L543.13,48.15 L544.19,48.00 L545.25,47.85 L546.32,47.69 L547.38,47.54 L548.44,47.39 L549.50,47.24 L550.56,47.10 L551.62,46.95 L552.68,46.80 L553.74,46.66 L554.80,46.51 L555.86,46.37 L556.92,46.22 L557.98,46.08 L559.04,45.94 L560.11,45.80 L561.17,45.66 L562.23,45.52 L563.29,45.38 L564.35,45.25 L565.41,45.11 L566.47,44.97 L567.53,44.84 L568.59,44.71 L569.65,44.57 L570.71,44.44 L571.77,44.31 L572.83,44.18 L573.89,44.05 L574.96,43.92 L576.02,43.79 L577.08,43.66 L578.14,43.54 L579.20,43.41 L580.26,43.29 L581.32,43.16 L582.38,43.04 L583.44,42.91 L584.50,42.79 L585.56,42.67 L586.62,42.55 L587.68,42.43 L588.75,42.31 L589.81,42.19 L590.87,42.07 L591.93,41.95 L592.99,41.84 L594.05,41.72 L595.11,41.61 L596.17,41.49 L597.23,41.38 L598.29,41.26 L599.35,41.15 L600.41,41.04 L601.47,40.93 L602.54,40.82 L603.60,40.71 L604.66,40.60 L605.72,40.49 L606.78,40.38 L607.84,40.27 L608.90,40.16 L609.96,40.06 L611.02,39.95 L612.08,39.85 L613.14,39.74 L614.20,39.64 L615.26,39.53 L616.32,39.43 L617.39,39.33 L618.45,39.22 L619.51,39.12 L620.57,39.02 L621.63,38.92 L622.69,38.82 L623.75,38.72 L624.81,38.62 L625.87,38.53 L626.93,38.43 L627.99,38.33 L629.05,38.24 L630.11,38.14 L631.18,38.04 L632.24,37.95 L633.30,37.85 L634.36,37.76 L635.42,37.67 L636.48,37.57 L637.54,37.48 L638.60,37.39 L639.66,37.30 L640.72,37.21 L641.78,37.12 L642.84,37.03 L643.90,36.94 L644.97,36.85 L646.03,36.76 L647.09,36.67 L648.15,36.58 L649.21,36.50 L650.27,36.41 L651.33,36.32 L652.39,36.24 L653.45,36.15 L654.51,36.07 L655.57,35.98 L656.63,35.90 L657.69,35.82 L658.75,35.73 L659.82,35.65 L660.88,35.57 L661.94,35.49 L663.00,35.41 L664.06,35.32 L665.12,35.24 L666.18,35.16 L667.24,35.08 L668.30,35.00 L669.36,34.93 L670.42,34.85 L671.48,34.77 L672.54,34.69 L673.61,34.61 L674.67,34.54 L675.73,34.46 L676.79,34.38 L677.85,34.31 L678.91,34.23 L679.97,34.16 L681.03,34.08 L682.09,34.01 L683.15,33.93 L684.21,33.86 L685.27,33.79 L686.33,33.72 L687.40,33.64 L688.46,33.57 L689.52,33.50 L690.58,33.43 L691.64,33.36 L692.70,33.29 L693.76,33.22 L694.82,33.15 L695.88,33.08 L696.94,33.01 L698.00,32.94 L699.06,32.87 L700.12,32.80 L701.18,32.73 L702.25,32.67 L703.31,32.60 L704.37,32.53 L705.43,32.46 L706.49,32.40 L707.55,32.33 L708.61,32.27 L709.67,32.20 L710.73,32.14 L711.79,32.07 L712.85,32.01 L713.91,31.94 L714.97,31.88 L716.04,31.82 L717.10,31.75 L718.16,31.69 L719.22,31.63 L720.28,31.57 L721.34,31.50 L722.40,31.44" stroke="#000000" stroke-width="2.95"/>
</g>
<g clip-path="url(#ci)" fill="none" stroke-linejoin="round">
<path d="M377.00,376.00 L379.57,376.00 L382.15,375.99 L384.72,375.97 L387.30,375.94 L389.87,375.87 L392.44,375.78 L395.02,375.65 L397.59,375.48 L400.17,375.25 L402.74,374.96 L405.32,374.60 L407.89,374.16 L410.46,373.62 L413.04,373.00 L415.61,372.27 L418.19,371.45 L420.76,370.53 L423.33,369.51 L425.91,368.40 L428.48,367.19 L431.06,365.90 L433.63,364.51 L436.21,363.02 L438.78,361.45 L441.35,359.78 L443.93,358.02 L446.50,356.15 L449.08,354.19 L451.65,352.13 L454.23,349.96 L456.80,347.68 L459.37,345.30 L461.95,342.81 L464.52,340.20 L467.10,337.48 L469.67,334.65 L472.24,331.71 L474.82,328.65 L477.39,325.48 L479.97,322.19 L482.54,318.80 L485.12,315.30 L487.69,311.69 L490.26,307.97 L492.84,304.15 L495.41,300.23 L497.99,296.21 L500.56,292.09 L503.13,287.88 L505.71,283.58 L508.28,279.19 L510.86,274.71 L513.43,270.15 L516.00,265.51 L518.58,260.80 L521.15,256.01 L523.73,251.15 L526.30,246.23 L528.88,241.24 L531.45,236.19 L534.02,231.08 L536.60,225.92 L539.17,220.70 L541.75,215.43 L544.32,210.12 L546.89,204.76 L549.47,199.36 L552.04,193.93 L554.62,188.45 L557.19,182.94 L559.77,177.40 L562.34,171.84 L564.91,166.24 L567.49,160.62 L570.06,154.98 L572.64,149.32 L575.21,143.64 L577.78,137.95 L580.36,132.24 L582.93,126.51 L585.51,120.78 L588.08,115.04 L590.66,109.30 L593.23,103.54 L595.80,97.79 L598.38,92.03 L600.95,86.27 L603.53,80.51 L606.10,74.75 L608.67,69.00 L611.25,63.25 L613.82,57.50 L616.40,51.77 L618.97,46.04 L621.55,40.31 L624.12,34.60 L626.69,28.90 L629.27,23.21 L631.84,17.53 L634.42,11.86 L636.99,6.21 L639.57,0.57 L642.14,-5.05 L644.71,-10.66 L647.29,-16.25 L649.86,-21.83 L652.44,-27.39 L655.01,-32.93 L657.58,-38.46 L660.16,-43.96 L662.73,-49.45 L665.31,-54.92 L667.88,-60.37 L670.45,-65.80 L673.03,-71.21 L675.60,-76.61 L678.18,-81.98 L680.75,-87.33 L683.33,-92.66 L685.90,-97.98 L688.47,-103.27 L691.05,-108.54 L693.62,-113.79 L696.20,-119.02" stroke="#FF6210" stroke-width="2.7"/>
<path d="M377.00,376.00 L379.57,376.00 L382.15,376.00 L384.72,376.00 L387.30,376.00 L389.87,375.99 L392.44,375.96 L395.02,375.90 L397.59,375.78 L400.17,375.59 L402.74,375.32 L405.32,374.99 L407.89,374.60 L410.46,374.17 L413.04,373.71 L415.61,373.22 L418.19,372.69 L420.76,372.14 L423.33,371.54 L425.91,370.90 L428.48,370.20 L431.06,369.43 L433.63,368.59 L436.21,367.66 L438.78,366.63 L441.35,365.50 L443.93,364.26 L446.50,362.91 L449.08,361.45 L451.65,359.87 L454.23,358.18 L456.80,356.37 L459.37,354.45 L461.95,352.42 L464.52,350.29 L467.10,348.05 L469.67,345.71 L472.24,343.27 L474.82,340.73 L477.39,338.11 L479.97,335.39 L482.54,332.58 L485.12,329.68 L487.69,326.70 L490.26,323.64 L492.84,320.49 L495.41,317.26 L497.99,313.95 L500.56,310.57 L503.13,307.10 L505.71,303.56 L508.28,299.93 L510.86,296.24 L513.43,292.46 L516.00,288.61 L518.58,284.69 L521.15,280.69 L523.73,276.62 L526.30,272.48 L528.88,268.26 L531.45,263.98 L534.02,259.63 L536.60,255.21 L539.17,250.73 L541.75,246.18 L544.32,241.57 L546.89,236.90 L549.47,232.17 L552.04,227.38 L554.62,222.54 L557.19,217.64 L559.77,212.69 L562.34,207.69 L564.91,202.65 L567.49,197.56 L570.06,192.42 L572.64,187.25 L575.21,182.04 L577.78,176.79 L580.36,171.50 L582.93,166.18 L585.51,160.84 L588.08,155.46 L590.66,150.06 L593.23,144.63 L595.80,139.18 L598.38,133.71 L600.95,128.22 L603.53,122.71 L606.10,117.19 L608.67,111.66 L611.25,106.11 L613.82,100.56 L616.40,94.99 L618.97,89.42 L621.55,83.84 L624.12,78.26 L626.69,72.67 L629.27,67.09 L631.84,61.50 L634.42,55.91 L636.99,50.33 L639.57,44.74 L642.14,39.17 L644.71,33.59 L647.29,28.02 L649.86,22.46 L652.44,16.91 L655.01,11.36 L657.58,5.83 L660.16,0.30 L662.73,-5.22 L665.31,-10.73 L667.88,-16.22 L670.45,-21.71 L673.03,-27.18 L675.60,-32.64 L678.18,-38.09 L680.75,-43.52 L683.33,-48.94 L685.90,-54.35 L688.47,-59.74 L691.05,-65.12 L693.62,-70.49 L696.20,-75.84" stroke="#0040FF" stroke-width="2.7"/>
<path d="M377.00,376.00 L379.57,376.00 L382.15,376.00 L384.72,376.00 L387.30,376.00 L389.87,375.99 L392.44,375.97 L395.02,375.92 L397.59,375.84 L400.17,375.71 L402.74,375.54 L405.32,375.35 L407.89,375.12 L410.46,374.87 L413.04,374.61 L415.61,374.32 L418.19,374.01 L420.76,373.68 L423.33,373.31 L425.91,372.89 L428.48,372.43 L431.06,371.92 L433.63,371.34 L436.21,370.69 L438.78,369.97 L441.35,369.18 L443.93,368.31 L446.50,367.36 L449.08,366.33 L451.65,365.22 L454.23,364.02 L456.80,362.75 L459.37,361.39 L461.95,359.95 L464.52,358.43 L467.10,356.82 L469.67,355.13 L472.24,353.37 L474.82,351.52 L477.39,349.58 L479.97,347.57 L482.54,345.47 L485.12,343.29 L487.69,341.03 L490.26,338.69 L492.84,336.26 L495.41,333.75 L497.99,331.15 L500.56,328.48 L503.13,325.72 L505.71,322.88 L508.28,319.96 L510.86,316.95 L513.43,313.86 L516.00,310.70 L518.58,307.45 L521.15,304.13 L523.73,300.73 L526.30,297.25 L528.88,293.70 L531.45,290.07 L534.02,286.37 L536.60,282.60 L539.17,278.75 L541.75,274.84 L544.32,270.87 L546.89,266.82 L549.47,262.72 L552.04,258.55 L554.62,254.32 L557.19,250.03 L559.77,245.69 L562.34,241.29 L564.91,236.83 L567.49,232.32 L570.06,227.77 L572.64,223.16 L575.21,218.51 L577.78,213.81 L580.36,209.06 L582.93,204.27 L585.51,199.44 L588.08,194.58 L590.66,189.67 L593.23,184.72 L595.80,179.74 L598.38,174.73 L600.95,169.68 L603.53,164.60 L606.10,159.49 L608.67,154.35 L611.25,149.18 L613.82,143.99 L616.40,138.77 L618.97,133.52 L621.55,128.25 L624.12,122.96 L626.69,117.64 L629.27,112.30 L631.84,106.95 L634.42,101.57 L636.99,96.17 L639.57,90.76 L642.14,85.33 L644.71,79.88 L647.29,74.42 L649.86,68.95 L652.44,63.46 L655.01,57.95 L657.58,52.44 L660.16,46.91 L662.73,41.37 L665.31,35.82 L667.88,30.26 L670.45,24.69 L673.03,19.11 L675.60,13.52 L678.18,7.93 L680.75,2.33 L683.33,-3.28 L685.90,-8.90 L688.47,-14.52 L691.05,-20.14 L693.62,-25.78 L696.20,-31.41" stroke="#26C30A" stroke-width="2.7"/>
<path d="M377.00,376.00 L379.57,376.00 L382.15,376.00 L384.72,376.00 L387.30,376.00 L389.87,376.00 L392.44,376.00 L395.02,375.99 L397.59,375.98 L400.17,375.97 L402.74,375.95 L405.32,375.93 L407.89,375.90 L410.46,375.88 L413.04,375.85 L415.61,375.82 L418.19,375.79 L420.76,375.76 L423.33,375.72 L425.91,375.68 L428.48,375.63 L431.06,375.57 L433.63,375.50 L436.21,375.42 L438.78,375.33 L441.35,375.23 L443.93,375.11 L446.50,374.97 L449.08,374.82 L451.65,374.65 L454.23,374.46 L456.80,374.25 L459.37,374.02 L461.95,373.77 L464.52,373.50 L467.10,373.20 L469.67,372.88 L472.24,372.54 L474.82,372.16 L477.39,371.75 L479.97,371.31 L482.54,370.84 L485.12,370.33 L487.69,369.78 L490.26,369.18 L492.84,368.55 L495.41,367.86 L497.99,367.13 L500.56,366.34 L503.13,365.50 L505.71,364.61 L508.28,363.65 L510.86,362.64 L513.43,361.56 L516.00,360.42 L518.58,359.21 L521.15,357.94 L523.73,356.59 L526.30,355.18 L528.88,353.70 L531.45,352.15 L534.02,350.53 L536.60,348.83 L539.17,347.07 L541.75,345.23 L544.32,343.32 L546.89,341.34 L549.47,339.28 L552.04,337.16 L554.62,334.96 L557.19,332.70 L559.77,330.36 L562.34,327.96 L564.91,325.49 L567.49,322.95 L570.06,320.35 L572.64,317.68 L575.21,314.95 L577.78,312.15 L580.36,309.30 L582.93,306.38 L585.51,303.41 L588.08,300.37 L590.66,297.28 L593.23,294.14 L595.80,290.94 L598.38,287.69 L600.95,284.39 L603.53,281.03 L606.10,277.63 L608.67,274.18 L611.25,270.68 L613.82,267.13 L616.40,263.54 L618.97,259.91 L621.55,256.24 L624.12,252.52 L626.69,248.76 L629.27,244.96 L631.84,241.13 L634.42,237.25 L636.99,233.34 L639.57,229.39 L642.14,225.41 L644.71,221.39 L647.29,217.34 L649.86,213.26 L652.44,209.15 L655.01,205.00 L657.58,200.82 L660.16,196.62 L662.73,192.38 L665.31,188.12 L667.88,183.83 L670.45,179.51 L673.03,175.17 L675.60,170.80 L678.18,166.40 L680.75,161.98 L683.33,157.54 L685.90,153.07 L688.47,148.58 L691.05,144.07 L693.62,139.53 L696.20,134.97" stroke="#000000" stroke-width="2.7"/>
</g>
<path d="M85.95,380.31 H149.59 V421.2" fill="none" stroke="#000" stroke-width="1.3"/>
<path d="M149.59,380.31 L340.46,315.37" stroke="#BC8F8F" stroke-width="2.8" fill="none"/>
<path d="M329.63,325.00 L340.46,315.37 L326.00,314.34" stroke="#BC8F8F" stroke-width="2.8" fill="none" stroke-linejoin="miter" stroke-miterlimit="10"/>
<path d="M85.95,421.2 v-10.6 M85.95,12.25 v11.1 M107.16,421.2 v-4.8 M107.16,12.25 v5.8 M128.38,421.2 v-4.8 M128.38,12.25 v5.8 M149.59,421.2 v-4.8 M149.59,12.25 v5.8 M170.81,421.2 v-4.8 M170.81,12.25 v5.8 M192.02,421.2 v-10.6 M192.02,12.25 v11.1 M213.24,421.2 v-4.8 M213.24,12.25 v5.8 M234.45,421.2 v-4.8 M234.45,12.25 v5.8 M255.67,421.2 v-4.8 M255.67,12.25 v5.8 M276.88,421.2 v-4.8 M276.88,12.25 v5.8 M298.10,421.2 v-10.6 M298.10,12.25 v11.1 M319.31,421.2 v-4.8 M319.31,12.25 v5.8 M340.53,421.2 v-4.8 M340.53,12.25 v5.8 M361.74,421.2 v-4.8 M361.74,12.25 v5.8 M382.96,421.2 v-4.8 M382.96,12.25 v5.8 M404.17,421.2 v-10.6 M404.17,12.25 v11.1 M425.39,421.2 v-4.8 M425.39,12.25 v5.8 M446.60,421.2 v-4.8 M446.60,12.25 v5.8 M467.82,421.2 v-4.8 M467.82,12.25 v5.8 M489.03,421.2 v-4.8 M489.03,12.25 v5.8 M510.25,421.2 v-10.6 M510.25,12.25 v11.1 M531.47,421.2 v-4.8 M531.47,12.25 v5.8 M552.68,421.2 v-4.8 M552.68,12.25 v5.8 M573.89,421.2 v-4.8 M573.89,12.25 v5.8 M595.11,421.2 v-4.8 M595.11,12.25 v5.8 M616.32,421.2 v-10.6 M616.32,12.25 v11.1 M637.54,421.2 v-4.8 M637.54,12.25 v5.8 M658.75,421.2 v-4.8 M658.75,12.25 v5.8 M679.97,421.2 v-4.8 M679.97,12.25 v5.8 M701.18,421.2 v-4.8 M701.18,12.25 v5.8 M722.40,421.2 v-10.6 M722.40,12.25 v11.1 M85.95,421.20 h11.1 M722.4,421.20 h-11.1 M85.95,380.31 h5.8 M722.4,380.31 h-5.8 M85.95,339.41 h11.1 M722.4,339.41 h-11.1 M85.95,298.51 h5.8 M722.4,298.51 h-5.8 M85.95,257.62 h11.1 M722.4,257.62 h-11.1 M85.95,216.72 h5.8 M722.4,216.72 h-5.8 M85.95,175.83 h11.1 M722.4,175.83 h-11.1 M85.95,134.94 h5.8 M722.4,134.94 h-5.8 M85.95,94.04 h11.1 M722.4,94.04 h-11.1 M85.95,53.14 h5.8 M722.4,53.14 h-5.8 M85.95,12.25 h11.1 M722.4,12.25 h-11.1 M377.00,376.0 v-10.8 M377.00,176.0 v10.8 M428.48,376.0 v-5.6 M428.48,176.0 v5.6 M479.97,376.0 v-10.8 M479.97,176.0 v10.8 M531.45,376.0 v-5.6 M531.45,176.0 v5.6 M582.93,376.0 v-10.8 M582.93,176.0 v10.8 M634.42,376.0 v-5.6 M634.42,176.0 v5.6 M685.90,376.0 v-10.8 M685.90,176.0 v10.8 M377.0,376.00 h10.8 M685.9,376.00 h-10.8 M377.0,326.00 h5.6 M685.9,326.00 h-5.6 M377.0,276.00 h10.8 M685.9,276.00 h-10.8 M377.0,226.00 h5.6 M685.9,226.00 h-5.6 M377.0,176.00 h10.8 M685.9,176.00 h-10.8" stroke="#000" stroke-width="1.7" fill="none"/>
<rect x="85.95" y="12.25" width="636.45" height="408.95" fill="none" stroke="#000" stroke-width="1.8"/>
<rect x="377.0" y="176.0" width="308.90" height="200.00" fill="none" stroke="#000" stroke-width="1.8"/>
<g font-size="26">
<text x="77.1" y="430.60" text-anchor="end">0.0</text>
<text x="77.1" y="348.81" text-anchor="end">0.2</text>
<text x="77.1" y="267.02" text-anchor="end">0.4</text>
<text x="77.1" y="185.23" text-anchor="end">0.6</text>
<text x="77.1" y="103.44" text-anchor="end">0.8</text>
<text x="77.1" y="21.65" text-anchor="end">1.0</text>
<text x="86.05" y="449.1" text-anchor="middle">0</text>
<text x="192.12" y="449.1" text-anchor="middle">50</text>
<text x="298.20" y="449.1" text-anchor="middle">100</text>
<text x="404.27" y="449.1" text-anchor="middle">150</text>
<text x="510.35" y="449.1" text-anchor="middle">200</text>
<text x="616.42" y="449.1" text-anchor="middle">250</text>
<text x="723.00" y="449.1" text-anchor="middle">300</text>
<text x="368.6" y="385.20" text-anchor="end">0.00</text>
<text x="368.6" y="285.20" text-anchor="end">0.05</text>
<text x="368.6" y="185.20" text-anchor="end">0.10</text>
<text x="377.00" y="402.9" text-anchor="middle">0</text>
<text x="479.97" y="402.9" text-anchor="middle">10</text>
<text x="582.93" y="402.9" text-anchor="middle">20</text>
<text x="685.90" y="402.9" text-anchor="middle">30</text>
</g>
<text x="404.7" y="476" font-size="27.7" text-anchor="middle">T (K)</text>
<text transform="translate(23.9,216.4) rotate(-90)" font-size="27.9" text-anchor="middle">C<tspan font-size="19.53" dy="12.1">V</tspan><tspan dy="-12.1"> (k</tspan><tspan font-size="19.53" dy="12.1">B</tspan><tspan dy="-12.1">/DOF)</tspan></text>
<path d="M102.5,43.9 H129.8" stroke="#FF6210" stroke-width="2.95" fill="none"/>
<text x="138.5" y="48.0" font-size="25.4"><tspan font-size="25.40" dy="0">Fe</tspan><tspan font-size="17.78" dy="9.5">5</tspan><tspan font-size="25.40" dy="-9.5">Pt</tspan><tspan font-size="17.78" dy="9.5">8</tspan></text>
<path d="M102.5,80.3 H129.8" stroke="#0040FF" stroke-width="2.95" fill="none"/>
<text x="138.5" y="83.6" font-size="25.4"><tspan font-size="25.40" dy="0">Fe</tspan><tspan font-size="17.78" dy="9.5">24</tspan><tspan font-size="25.40" dy="-9.5">Pt</tspan><tspan font-size="17.78" dy="9.5">31</tspan></text>
<path d="M102.5,116.4 H129.8" stroke="#26C30A" stroke-width="2.95" fill="none"/>
<text x="138.5" y="119.8" font-size="25.4"><tspan font-size="25.40" dy="0">Fe</tspan><tspan font-size="17.78" dy="9.5">67</tspan><tspan font-size="25.40" dy="-9.5">Pt</tspan><tspan font-size="17.78" dy="9.5">80</tspan></text>
<path d="M102.5,147.5 H129.8" stroke="#000000" stroke-width="2.95" fill="none"/>
<text x="138.5" y="156.5" font-size="25.4"><tspan font-size="25.40" dy="0">FePt bulk</tspan></text>
</svg></body></html>
